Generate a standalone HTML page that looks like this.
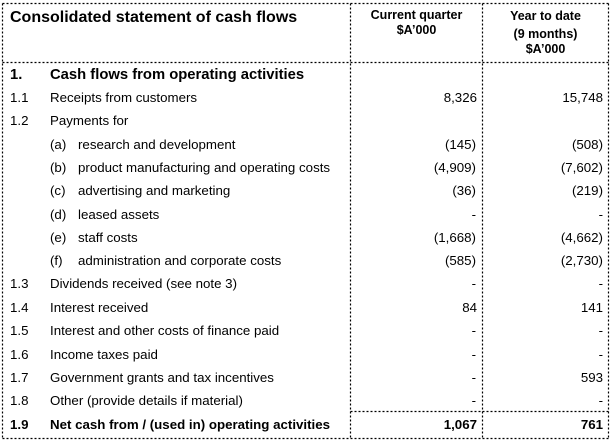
<!DOCTYPE html>
<html><head><meta charset="utf-8"><style>
body{margin:0;width:611px;height:441px;background:#fff;position:relative;overflow:hidden;font-family:"Liberation Sans",Arial,sans-serif;color:#000}
.t{position:absolute;white-space:nowrap;font-size:13.3px;line-height:16px}
.b{font-weight:bold}
.r{text-align:right}
.c{text-align:center}
svg{position:absolute;left:0;top:0}
</style></head><body>
<svg width="611" height="441"><g stroke="#000" stroke-width="1.2" stroke-dasharray="2,2" fill="none">
<line x1="2.5" y1="3.5" x2="608.5" y2="3.5"/>
<line x1="2.5" y1="3.5" x2="2.5" y2="438.5"/>
<line x1="608.5" y1="3.5" x2="608.5" y2="438.5"/>
<line x1="2.5" y1="438.5" x2="608.5" y2="438.5"/>
<line x1="2.5" y1="62.5" x2="608.5" y2="62.5"/>
<line x1="350.5" y1="3.5" x2="350.5" y2="438.5"/>
<line x1="482.5" y1="3.5" x2="482.5" y2="438.5"/>
<line x1="350.5" y1="411.5" x2="608.5" y2="411.5"/>
</g></svg>
<div class="t b" style="left:10px;top:9px;font-size:16px;line-height:18px">Consolidated statement of cash flows</div>
<div class="t b c" style="left:351px;width:131px;top:8px;font-size:12.5px;line-height:15px">Current quarter<br>$A’000</div>
<div class="t b c" style="left:483px;width:125px;top:9px;font-size:12.5px;line-height:15px">Year to date<br><span style="display:inline-block;margin-top:3px">(9 months)</span><br>$A’000</div>
<div class="t b" style="left:10px;top:66px;font-size:14.8px;line-height:18px">1.</div>
<div class="t b" style="left:50px;top:66px;font-size:14.8px;line-height:18px">Cash flows from operating activities</div>

<div class="t" style="left:10px;top:90px">1.1</div><div class="t" style="left:50px;top:90px">Receipts from customers</div>
<div class="t r" style="right:134px;top:90px">8,326</div><div class="t r" style="right:8px;top:90px">15,748</div>

<div class="t" style="left:10px;top:113px">1.2</div><div class="t" style="left:50px;top:113px">Payments for</div>

<div class="t" style="left:50px;top:137px">(a)</div><div class="t" style="left:78px;top:137px">research and development</div>
<div class="t r" style="right:135px;top:137px">(145)</div><div class="t r" style="right:8px;top:137px">(508)</div>

<div class="t" style="left:50px;top:160px">(b)</div><div class="t" style="left:78px;top:160px">product manufacturing and operating costs</div>
<div class="t r" style="right:135px;top:160px">(4,909)</div><div class="t r" style="right:8px;top:160px">(7,602)</div>

<div class="t" style="left:50px;top:183px">(c)</div><div class="t" style="left:78px;top:183px">advertising and marketing</div>
<div class="t r" style="right:135px;top:183px">(36)</div><div class="t r" style="right:8px;top:183px">(219)</div>

<div class="t" style="left:50px;top:207px">(d)</div><div class="t" style="left:78px;top:207px">leased assets</div>
<div class="t r" style="right:135px;top:207px">-</div><div class="t r" style="right:8px;top:207px">-</div>

<div class="t" style="left:50px;top:230px">(e)</div><div class="t" style="left:78px;top:230px">staff costs</div>
<div class="t r" style="right:135px;top:230px">(1,668)</div><div class="t r" style="right:8px;top:230px">(4,662)</div>

<div class="t" style="left:50px;top:253px">(f)</div><div class="t" style="left:78px;top:253px">administration and corporate costs</div>
<div class="t r" style="right:135px;top:253px">(585)</div><div class="t r" style="right:8px;top:253px">(2,730)</div>

<div class="t" style="left:10px;top:276px">1.3</div><div class="t" style="left:50px;top:276px">Dividends received (see note 3)</div>
<div class="t r" style="right:135px;top:276px">-</div><div class="t r" style="right:8px;top:276px">-</div>

<div class="t" style="left:10px;top:300px">1.4</div><div class="t" style="left:50px;top:300px">Interest received</div>
<div class="t r" style="right:134px;top:300px">84</div><div class="t r" style="right:8px;top:300px">141</div>

<div class="t" style="left:10px;top:323px">1.5</div><div class="t" style="left:50px;top:323px">Interest and other costs of finance paid</div>
<div class="t r" style="right:135px;top:323px">-</div><div class="t r" style="right:8px;top:323px">-</div>

<div class="t" style="left:10px;top:347px">1.6</div><div class="t" style="left:50px;top:347px">Income taxes paid</div>
<div class="t r" style="right:135px;top:347px">-</div><div class="t r" style="right:8px;top:347px">-</div>

<div class="t" style="left:10px;top:370px">1.7</div><div class="t" style="left:50px;top:370px">Government grants and tax incentives</div>
<div class="t r" style="right:135px;top:370px">-</div><div class="t r" style="right:8px;top:370px">593</div>

<div class="t" style="left:10px;top:393px">1.8</div><div class="t" style="left:50px;top:393px">Other (provide details if material)</div>
<div class="t r" style="right:135px;top:393px">-</div><div class="t r" style="right:8px;top:393px">-</div>

<div class="t b" style="left:10px;top:417px">1.9</div><div class="t b" style="left:50px;top:417px">Net cash from / (used in) operating activities</div>
<div class="t b r" style="right:134px;top:417px">1,067</div><div class="t b r" style="right:8px;top:417px">761</div>
</body></html>
